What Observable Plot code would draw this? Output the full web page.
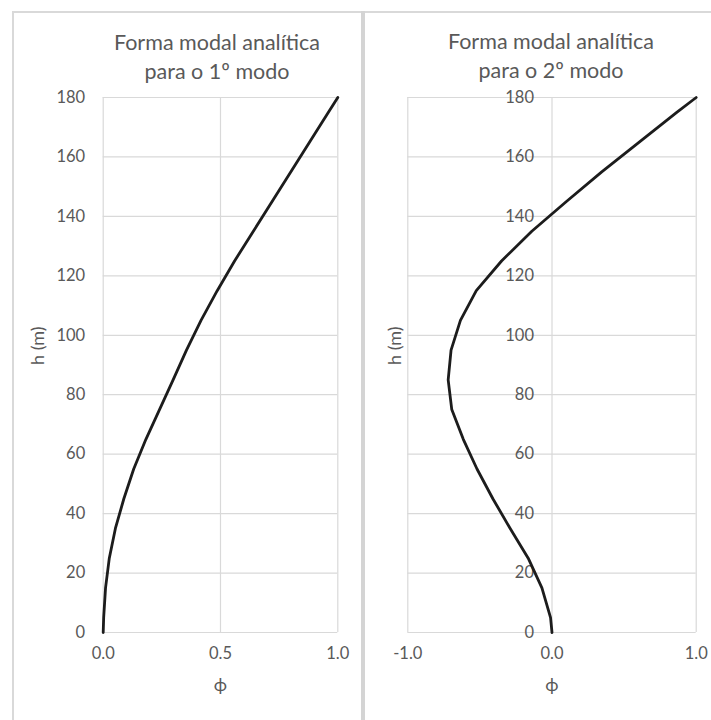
<!DOCTYPE html>
<html>
<head>
<meta charset="utf-8">
<script src="https://cdn.jsdelivr.net/npm/d3@7"></script>
<script src="https://cdn.jsdelivr.net/npm/@observablehq/plot@0.6"></script>
<style>
  html, body { margin: 0; padding: 0; background: #fff; }
  #wrap { position: relative; width: 711px; height: 720px; overflow: hidden; background: #fff; font-family: Lato, "Open Sans", sans-serif; }
  .border { position: absolute; background: #d9d9d9; }
  .title { position: absolute; width: 340px; text-align: center; color: #595959; font-size: 21.5px; line-height: 29px; font-family: Lato, sans-serif; }
  .panel { position: absolute; top: 78px; }
</style>
</head>
<body>
<div id="wrap">
  <div id="p1" class="panel" style="left:14px"></div>
  <div id="p2" class="panel" style="left:365px"></div>
  <div class="border" style="left:12px; top:11px; width:699px; height:1.5px"></div>
  <div class="border" style="left:12px; top:11px; width:2px; height:709px"></div>
  <div class="border" style="left:361px; top:11px; width:4px; height:709px; background:#d4d4d4"></div>
  <div class="title" style="left:47px; top:28px">Forma modal analítica<br>para o 1º modo</div>
  <div class="title" style="left:381px; top:27px">Forma modal analítica<br>para o 2º modo</div>
</div>
<script>
// heights (m)
const heights = [0, 5, 15, 25, 35, 45, 55, 65, 75, 85, 95, 105, 115, 125, 135, 145, 155, 165, 175, 180];
// mode 1 shape values
const mode1 = [0, 0.002, 0.01, 0.026, 0.052, 0.088, 0.13, 0.182, 0.24, 0.298, 0.355, 0.417, 0.486, 0.56, 0.64, 0.72, 0.80, 0.88, 0.96, 1.0];
// mode 2 shape values
const mode2 = [0, -0.01, -0.07, -0.165, -0.29, -0.41, -0.52, -0.615, -0.695, -0.72, -0.70, -0.635, -0.525, -0.35, -0.14, 0.10, 0.345, 0.605, 0.865, 1.0];
// tick values
const yTicks = [0, 20, 40, 60, 80, 100, 120, 140, 160, 180];
const xTicks1 = [0, 0.5, 1];
const xTicks2 = [-1, 0, 1];
const xLabel = "ϕ";
const yLabel = "h (m)";

const textColor = "#595959";
const gridColor = "#d9d9d9";
const fmt = d => d.toFixed(1);

function panel(values, xDomain, xTicks, ml, mr, yLabelDx) {
  const data = heights.map((h, i) => ({h, phi: values[i]}));
  return Plot.plot({
    width: 346,
    height: 642,
    marginLeft: ml,
    marginRight: mr,
    marginTop: 19,
    marginBottom: 88,
    style: {background: "transparent", fontFamily: "Lato, sans-serif", color: textColor, overflow: "visible"},
    x: {domain: xDomain, axis: null},
    y: {domain: [0, 180], axis: null},
    marks: [
      Plot.gridY(yTicks, {stroke: gridColor, strokeOpacity: 1, strokeWidth: 1.2}),
      Plot.gridX(xTicks, {stroke: gridColor, strokeOpacity: 1, strokeWidth: 1.2}),
      Plot.text(yTicks, {x: 0, y: d => d, text: d => String(d), textAnchor: "end", dx: -18, fontSize: 16.5, fill: textColor}),
      Plot.text(xTicks, {x: d => d, frameAnchor: "bottom", text: d => fmt(d), dy: 26, fontSize: 16.5, fill: textColor}),
      Plot.text([xLabel], {frameAnchor: "bottom", text: d => d, dy: 58, fontSize: 18, fill: textColor}),
      Plot.text([yLabel], {frameAnchor: "left", text: d => d, dx: yLabelDx, rotate: -90, fontSize: 18, fill: textColor}),
      Plot.line(data, {x: "phi", y: "h", stroke: "#1c1c1c", strokeWidth: 2.8, curve: "linear"})
    ]
  });
}

document.getElementById("p1").append(panel(mode1, [0, 1], xTicks1, 88.7, 22.7, -65));
document.getElementById("p2").append(panel(mode2, [-1, 1], xTicks2, 42.3, 15.3, -13));
</script>
</body>
</html>
